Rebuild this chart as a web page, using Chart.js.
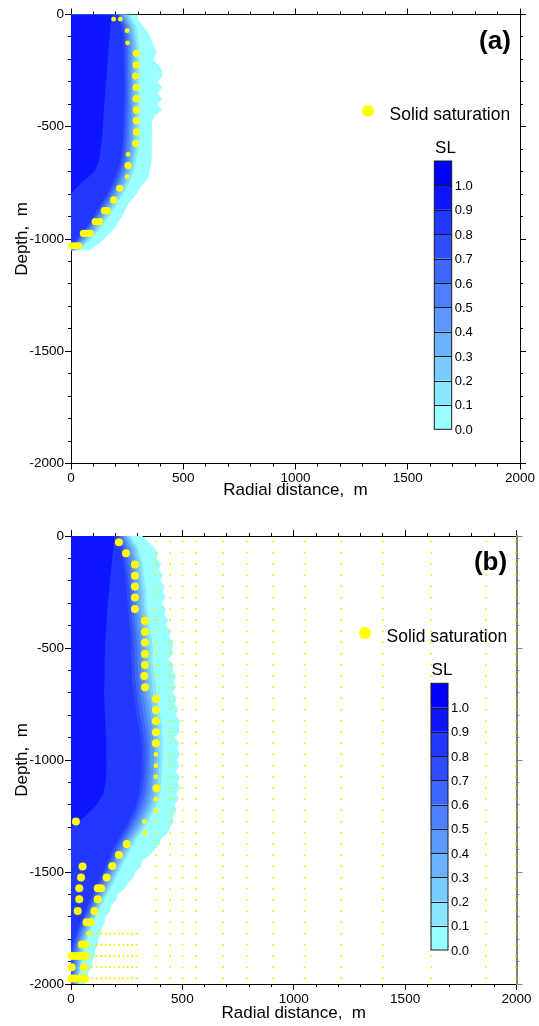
<!DOCTYPE html>
<html lang="en">
<head>
<meta charset="UTF-8">
<title>SL and solid saturation</title>
<script src="https://cdn.jsdelivr.net/npm/chart.js"></script>
<style>
  body { margin: 0; background: #FFFFFF; }
  .holder { position: relative; width: 539px; height: 1026px; }
  canvas { position: absolute; left: 0; }
</style>
</head>
<body>
<div class="holder">
  <canvas id="chartA" width="539" height="513" style="top:0"></canvas>
  <canvas id="chartB" width="539" height="513" style="top:513px"></canvas>
</div>
<script>
// SL contour levels and fill colours (bins 0.0-0.1 ... >1.0)
const slLevels = [0.0, 0.1, 0.2, 0.3, 0.4, 0.5, 0.6, 0.7, 0.8, 0.9, 1.0];
const slColors = ['#99FFFF', '#8AE6FF', '#7ACCFF', '#6BB3FF', '#5C99FF', '#4D80FF',
                  '#3D66FF', '#2E4DFF', '#2238FF', '#0D15FF', '#0000FF'];

// axes
const radialTicks = [0, 500, 1000, 1500, 2000];
const depthTicks = [0, -500, -1000, -1500, -2000];

// panel (a): depth rows (m) and radial reach (m) of SL above each level
const depthA = [0, -50, -100, -150, -200, -250, -300, -350, -400, -450, -500,
                -550, -600, -650, -700, -750, -800, -850, -900, -950, -1000, -1050];
// the outer (SL > 0) edge is read on a finer row spacing
const depthA25 = [0, -25, -50, -75, -100, -125, -150, -175, -200, -225, -250, -275, -300, -325, -350,
                  -375, -400, -425, -450, -475, -500, -525, -550, -575, -600, -625, -650, -675, -700,
                  -725, -750, -775, -800, -825, -850, -875, -900, -925, -950, -975, -1000, -1025, -1050];
const aEdge00 = [296, 300, 320, 338, 355, 361, 375, 380, 365, 390, 406, 406, 385, 406, 385, 406, 384, 406, 375, 361,
                 361, 361, 360, 360, 360, 360, 358, 355, 350, 345, 325, 305, 292, 270, 252, 240, 228, 210, 195, 170,
                 148, 120, 85];
const aEdge01 = [262, 290, 298, 303, 305, 306, 306, 306, 305, 305, 304, 303, 300, 290, 278, 258, 232, 200, 168, 132, 90, 35];
const aEdge02 = [250, 278, 287, 292, 294, 295, 295, 295, 294, 293, 292, 291, 288, 279, 266, 246, 220, 189, 157, 120, 78, 24];
const aEdge03 = [240, 268, 277, 282, 284, 285, 285, 285, 284, 283, 282, 280, 277, 269, 255, 235, 209, 178, 146, 110, 68, 16];
const aEdge04 = [232, 258, 267, 272, 274, 275, 275, 275, 274, 273, 272, 270, 267, 259, 245, 225, 199, 168, 136, 100, 58, 10];
const aEdge05 = [225, 250, 257, 262, 264, 265, 266, 266, 264, 263, 262, 260, 257, 249, 235, 215, 189, 158, 126, 90, 48, 6];
const aEdge06 = [218, 242, 249, 253, 254, 255, 256, 256, 254, 253, 252, 250, 247, 239, 225, 205, 179, 148, 117, 82, 40, 3];
const aEdge07 = [212, 234, 240, 244, 245, 246, 247, 247, 245, 243, 242, 240, 237, 229, 215, 195, 169, 139, 108, 73, 32, 0];
const aEdge08 = [205, 225, 232, 235, 236, 237, 238, 238, 236, 234, 233, 231, 228, 220, 205, 185, 160, 130, 100, 65, 25, 0];
const aEdge09 = [180, 176, 172, 168, 164, 160, 156, 152, 148, 145, 142, 138, 132, 125, 105, 45, 0, 0, 0, 0, 0, 0];

// panel (a): solid saturation cells [radial, depth]
const solidBigA = [[291, -173], [290, -225], [288, -274], [290, -324], [290, -375], [291, -425], [291, -473],
                   [291, -523], [288, -574], [254, -673], [217, -774], [190, -826], [149, -874], [162, -874],
                   [108, -923], [128, -923], [55, -975], [70, -975], [85, -975], [3, -1030], [18, -1030], [34, -1030]];
const solidSmallA = [[190, -21], [220, -21], [250, -72], [252, -126], [254, -623], [250, -722]];

// panel (b)
const depthB = [0, -50, -100, -150, -200, -250, -300, -350, -400, -450, -500, -550, -600, -650, -700,
                -750, -800, -850, -900, -950, -1000, -1050, -1100, -1150, -1200, -1250, -1300, -1350,
                -1400, -1450, -1500, -1550, -1600, -1650, -1700, -1750, -1800, -1850, -1900, -1950, -2000];
const depthB25 = [0, -25, -50, -75, -100, -125, -150, -175, -200, -225, -250, -275, -300, -325, -350, -375,
                  -400, -425, -450, -475, -500, -525, -550, -575, -600, -625, -650, -675, -700, -725, -750,
                  -775, -800, -825, -850, -875, -900, -925, -950, -975, -1000, -1025, -1050, -1075, -1100,
                  -1125, -1150, -1175, -1200, -1225, -1250, -1275, -1300, -1325, -1350, -1375, -1400, -1425,
                  -1450, -1475, -1500, -1525, -1550, -1575, -1600, -1625, -1650, -1675, -1700, -1725, -1750,
                  -1775, -1800, -1825, -1850, -1875, -1900, -1925, -1950, -1975, -2000];
const bEdge00 = [320, 345, 370, 392, 385, 405, 395, 412, 400, 421, 412, 424, 405, 426, 418, 437, 425, 448, 440, 461,
                 452, 459, 436, 461, 455, 472, 460, 472, 455, 475, 465, 482, 470, 491, 482, 488, 465, 486, 478, 491,
                 474, 487, 470, 489, 478, 490, 472, 483, 465, 475, 455, 462, 445, 435, 405, 398, 375, 355, 320, 313,
                 290, 280, 255, 240, 210, 203, 180, 175, 155, 152, 138, 136, 122, 121, 108, 107, 95, 92, 77, 75, 62];
const bEdge01 = [268, 300, 315, 325, 330, 338, 338, 345, 350, 360, 368, 365, 372, 378, 382, 392, 400, 408, 410, 412,
                 410, 408, 405, 400, 385, 360, 330, 295, 268, 240, 215, 190, 162, 135, 110, 90, 72, 58, 50, 42, 35];
const bEdge02 = [259, 289, 303, 313, 318, 325, 326, 333, 338, 347, 354, 351, 358, 363, 367, 377, 385, 393, 396, 399,
                 397, 395, 392, 387, 372, 347, 318, 284, 257, 229, 205, 180, 153, 127, 102, 82, 64, 50, 43, 36, 30];
const bEdge03 = [250, 278, 291, 301, 306, 313, 314, 320, 325, 333, 340, 338, 343, 348, 353, 362, 370, 379, 382, 385,
                 384, 382, 378, 373, 358, 334, 306, 272, 245, 219, 194, 170, 144, 118, 94, 73, 55, 41, 36, 30, 25];
const bEdge04 = [241, 266, 280, 289, 294, 300, 302, 308, 313, 320, 325, 324, 329, 333, 338, 347, 355, 364, 368, 372,
                 371, 369, 365, 360, 345, 321, 294, 261, 234, 208, 184, 160, 135, 110, 86, 65, 47, 33, 29, 24, 20];
const bEdge05 = [233, 255, 268, 276, 281, 288, 290, 295, 300, 306, 311, 311, 315, 319, 324, 332, 340, 349, 355, 358,
                 357, 355, 352, 346, 332, 309, 281, 249, 222, 197, 174, 150, 125, 101, 78, 57, 39, 25, 21, 18, 15];
const bEdge06 = [224, 244, 256, 264, 269, 275, 278, 283, 288, 293, 297, 297, 301, 304, 309, 317, 325, 334, 341, 345,
                 344, 342, 339, 333, 319, 296, 269, 238, 211, 186, 164, 140, 116, 93, 70, 49, 31, 17, 14, 12, 10];
const bEdge07 = [215, 233, 244, 252, 257, 263, 266, 270, 275, 279, 282, 284, 286, 289, 295, 302, 310, 320, 327, 331,
                 331, 329, 325, 319, 305, 283, 257, 226, 199, 176, 153, 130, 107, 84, 62, 40, 22, 8, 7, 6, 5];
const bEdge08 = [206, 222, 232, 240, 245, 250, 254, 258, 263, 266, 268, 270, 272, 274, 280, 287, 295, 305, 313, 318,
                 318, 316, 312, 306, 292, 270, 245, 215, 188, 165, 143, 120, 98, 76, 54, 32, 14, 0, 0, 0, 0];
const bEdge09 = [195, 190, 185, 180, 175, 170, 165, 161, 158, 155, 152, 151, 150, 149, 148, 150, 152, 155, 158, 160,
                 160, 158, 155, 145, 115, 65, 0, 0, 0, 0, 0, 0, 0, 0, 0, 0, 0, 0, 0, 0, 0];

const solidBigB = [[215, -28], [247, -77], [287, -127], [287, -177], [287, -226], [287, -275], [287, -326],
                   [332, -378], [332, -427], [332, -476], [332, -527], [332, -576], [329, -625], [332, -675],
                   [381, -728], [381, -777], [381, -826], [381, -876], [381, -925], [384, -1126], [22, -1275],
                   [250, -1375], [215, -1424], [185, -1473], [160, -1524], [120, -1573], [135, -1573],
                   [120, -1622], [105, -1674], [70, -1724], [88, -1724], [52, -1476], [45, -1524], [37, -1573],
                   [37, -1622], [30, -1674], [48, -1824], [62, -1824], [3, -1875], [20, -1875], [37, -1875],
                   [55, -1875], [65, -1875], [3, -1925], [58, -1925], [3, -1975], [18, -1975], [35, -1975],
                   [52, -1975], [62, -1975]];
const solidSmallB = [[381, -975], [381, -1025], [381, -1075], [381, -1175], [381, -1226], [329, -1275],
                     [332, -1325], [78, -1775]];
// trace solid saturation on the grid nodes
const traceColsB = [380, 444, 500, 560, 683, 789, 907, 1049, 1214, 1401, 1617, 1864, 1996];
const traceRowsB = [-25, -75, -125, -175, -225, -275, -325, -375, -425, -475, -525, -575, -625, -675, -725,
                    -775, -825, -875, -925, -975, -1025, -1075, -1125, -1175, -1225, -1275, -1325, -1375,
                    -1425, -1475, -1525, -1575, -1625, -1675, -1725, -1775, -1825, -1875, -1925, -1975];
const fineColsB = [75, 95, 115, 135, 155, 175, 195, 215, 235, 255, 275, 295];
const fineRowsB = [-1775, -1825, -1875, -1925, -1975];

const fontFamily = 'Arial, "Liberation Sans", sans-serif';
Chart.defaults.font.family = fontFamily;
Chart.defaults.color = '#000';

// closed region between the axis (r = 0) and an SL edge
function region(depths, edge) {
    const pts = [{ x: 0, y: depths[0] }];
    depths.forEach((d, i) => pts.push({ x: edge[i], y: d }));
    pts.push({ x: 0, y: depths[depths.length - 1] });
    return pts;
}

function toPoints(pairs) {
    return pairs.map(p => ({ x: p[0], y: p[1] }));
}

function gridPoints(cols, rows) {
    const pts = [];
    rows.forEach(d => cols.forEach(r => pts.push({ x: r, y: d })));
    return pts;
}

// edges: list of [depthRows, radialEdge], lowest SL level first
function buildDatasets(edges, big, small, trace, bigRadius) {
    const sets = [];
    edges.forEach(([depths, edge], k) => sets.push({
        data: region(depths, edge),
        showLine: true,
        fill: 'shape',
        backgroundColor: slColors[k],
        borderColor: 'rgba(0,0,0,0)',
        borderWidth: 0,
        pointRadius: 0,
        order: 100 - k * 2
    }));
    if (trace.length) {
        sets.push({
            data: trace, pointStyle: 'rect', pointRadius: 1.3, backgroundColor: '#F2F200',
            borderWidth: 0, order: 99, clip: false
        });
    }
    sets.push({ data: toPoints(small), pointRadius: 2.4, backgroundColor: '#FFFF00', borderWidth: 0, order: 1, clip: false });
    sets.push({ data: toPoints(big), pointRadius: bigRadius, backgroundColor: '#FFFF00', borderWidth: 0, order: 0, clip: false });
    sets.forEach(s => { s.xAxisID = 'x'; s.yAxisID = 'y'; });
    return sets;
}

function minorAxis(position, step, tickLen, color) {
    const vertical = position === 'left' || position === 'right';
    return {
        type: 'linear', position, weight: 0,
        min: vertical ? -2000 : 0, max: vertical ? 0 : 2000,
        ticks: { stepSize: step, display: false, autoSkip: false, maxTicksLimit: 100 },
        grid: { drawOnChartArea: false, tickLength: tickLen, tickColor: color, tickWidth: 1 },
        border: { display: false },
        afterFit: s => { if (vertical) s.width = 0; else s.height = 0; }
    };
}

function buildScales(p) {
    const tickFont = { size: 13.5 };
    const scales = {
        x: {
            type: 'linear', position: 'bottom', min: 0, max: 2000, weight: 1,
            afterBuildTicks: s => { s.ticks = radialTicks.map(v => ({ value: v })); },
            ticks: { font: tickFont, color: '#000', padding: 1, maxRotation: 0, autoSkip: false, callback: v => String(v) },
            grid: { drawOnChartArea: false, tickLength: 6, tickColor: '#000' },
            border: { color: '#000', width: 1 },
            title: { display: true, text: 'Radial distance,  m', font: { size: 17 }, color: '#000',
                     padding: { top: 0, bottom: p.xTitlePad } },
            afterFit: s => { s.height = p.xBoxH; }
        },
        xMinor: minorAxis('bottom', 100, 3, '#000'),
        xTop: minorAxis('top', 500, 6, '#000'),
        xTopMinor: minorAxis('top', 100, 3, '#000'),
        y: {
            type: 'linear', position: 'left', min: -2000, max: 0, weight: 1,
            afterBuildTicks: s => { s.ticks = depthTicks.map(v => ({ value: v })); },
            ticks: { font: tickFont, color: '#000', padding: 1, autoSkip: false, callback: v => String(v) },
            grid: { drawOnChartArea: false, tickLength: 6, tickColor: '#000' },
            border: { color: '#000', width: 1 },
            title: { display: true, text: 'Depth,  m', font: { size: 17 }, color: '#000',
                     padding: { top: 11.8, bottom: 0 } },
            afterFit: s => { s.width = 71; }
        },
        yMinor: minorAxis('left', 100, 3, '#000'),
        yRight: minorAxis('right', 500, 6, p.rightColor),
        yRightMinor: minorAxis('right', 100, 3, p.rightColor)
    };
    scales.xTop.border = { display: true, color: '#000', width: 1 };
    scales.yRight.border = { display: true, color: p.rightColor, width: p.rightWidth };
    return scales;
}

// key, SL colour bar and panel tag
const slLegend = {
    id: 'slLegend',
    afterDraw(chart, args, o) {
        const ctx = chart.ctx;
        ctx.save();
        ctx.fillStyle = '#000';
        ctx.font = 'bold 26px ' + fontFamily;
        ctx.textAlign = 'center';
        ctx.textBaseline = 'middle';
        ctx.fillText(o.tag, o.tagX, o.tagY);

        ctx.fillStyle = '#FFFF00';
        ctx.beginPath();
        ctx.arc(o.keyX, o.keyY, 6, 0, Math.PI * 2);
        ctx.fill();
        ctx.fillStyle = '#000';
        ctx.font = '17.5px ' + fontFamily;
        ctx.textAlign = 'left';
        ctx.textBaseline = 'alphabetic';
        ctx.fillText('Solid saturation', o.keyX + 21.5, o.keyBase);

        ctx.font = '17px ' + fontFamily;
        ctx.textAlign = 'center';
        ctx.fillText('SL', o.barX + o.barW / 2 + 2.5, o.barTop - 8);

        const h = (o.barBottom - o.barTop) / slColors.length;
        slColors.forEach((c, i) => {
            ctx.fillStyle = c;
            ctx.fillRect(o.barX, o.barBottom - (i + 1) * h, o.barW, h);
        });
        ctx.strokeStyle = '#1A1A1A';
        ctx.lineWidth = 1;
        for (let i = 1; i < slColors.length; i++) {
            const y = Math.round(o.barBottom - i * h) + 0.5;
            ctx.beginPath();
            ctx.moveTo(o.barX, y);
            ctx.lineTo(o.barX + o.barW, y);
            ctx.stroke();
        }
        ctx.strokeRect(o.barX, o.barTop, o.barW, o.barBottom - o.barTop);

        ctx.fillStyle = '#000';
        ctx.font = '13px ' + fontFamily;
        ctx.textAlign = 'left';
        ctx.textBaseline = 'middle';
        slLevels.forEach((v, i) => ctx.fillText(v.toFixed(1), o.barX + o.barW + 3, o.barBottom - i * h + 1));
        ctx.restore();
    }
};

function makeChart(id, datasets, p, legendOpts) {
    return new Chart(document.getElementById(id), {
        type: 'scatter',
        data: { datasets },
        options: {
            responsive: false,
            animation: false,
            events: [],
            layout: { autoPadding: false, padding: { top: p.top, right: p.right, left: 0, bottom: 0 } },
            scales: buildScales(p),
            plugins: { legend: { display: false }, tooltip: { enabled: false }, slLegend: legendOpts }
        },
        plugins: [slLegend]
    });
}

makeChart('chartA',
    buildDatasets([[depthA25, aEdge00], [depthA, aEdge01], [depthA, aEdge02], [depthA, aEdge03], [depthA, aEdge04],
                   [depthA, aEdge05], [depthA, aEdge06], [depthA, aEdge07], [depthA, aEdge08], [depthA, aEdge09]],
                  solidBigA, solidSmallA, [], 3.6),
    { top: 14.5, right: 19, xBoxH: 49.5, xTitlePad: 12.3, rightColor: '#000', rightWidth: 1 },
    { tag: '(a)', tagX: 495, tagY: 42, keyX: 368, keyY: 111, keyBase: 120,
      barX: 434.3, barW: 17.4, barTop: 161, barBottom: 429.3 });

makeChart('chartB',
    buildDatasets([[depthB25, bEdge00], [depthB, bEdge01], [depthB, bEdge02], [depthB, bEdge03], [depthB, bEdge04],
                   [depthB, bEdge05], [depthB, bEdge06], [depthB, bEdge07], [depthB, bEdge08], [depthB, bEdge09]],
                  solidBigB, solidSmallB,
                  gridPoints(traceColsB, traceRowsB).concat(gridPoints(fineColsB, fineRowsB)), 4),
    { top: 23, right: 22.5, xBoxH: 42, xTitlePad: 2.3, rightColor: '#808080', rightWidth: 2 },
    { tag: '(b)', tagX: 490.5, tagY: 49.5, keyX: 365, keyY: 120, keyBase: 129,
      barX: 431, barW: 17, barTop: 170.3, barBottom: 437 });
</script>
</body>
</html>
